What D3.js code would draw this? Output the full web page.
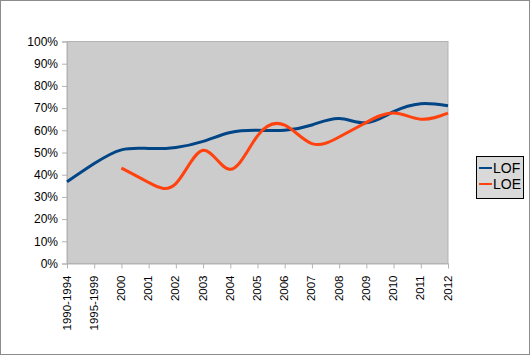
<!DOCTYPE html>
<html>
<head>
<meta charset="utf-8">
<script src="https://cdn.jsdelivr.net/npm/d3@7/dist/d3.min.js"></script>
<style>
  html, body { margin: 0; padding: 0; background: #fff; }
  svg { display: block; font-family: "Liberation Sans", Arial, sans-serif; }
</style>
</head>
<body>
<svg id="chart" width="531" height="356"></svg>
<script>
const categories = ["1990-1994","1995-1999","2000","2001","2002","2003","2004","2005","2006","2007","2008","2009","2010","2011","2012"];
const lofValues = [36.8, 45.0, 51.2, 51.8, 52.3, 55.0, 59.0, 60.0, 60.0, 62.4, 65.3, 63.4, 68.4, 72.0, 71.1];
const loeValues = [null, null, 43.0, 36.5, 36.0, 51.0, 42.4, 57.5, 62.3, 54.0, 57.0, 63.6, 67.8, 65.0, 67.7];
const seriesNames = ["LOF", "LOE"];
const seriesColors = ["#004586", "#ff420e"];
const yTicks = [0,10,20,30,40,50,60,70,80,90,100];

const svg = d3.select("#chart");
const W = 531, H = 356;
const plot = {left: 67, right: 448, top: 41.5, bottom: 263.5};

// outer border
svg.append("rect").attr("x", 0.5).attr("y", 0.5).attr("width", W - 2).attr("height", H - 2)
  .attr("fill", "#fff").attr("stroke", "#8c8c8c");

const x = d3.scalePoint().domain(categories).range([plot.left, plot.right]);
const y = d3.scaleLinear().domain([0, 100]).range([plot.bottom, plot.top]);

// plot wall
svg.append("rect").attr("x", plot.left).attr("y", plot.top)
  .attr("width", plot.right - plot.left).attr("height", plot.bottom - plot.top)
  .attr("fill", "#cccccc").attr("stroke", "#b3b3b3");

// y axis
const yAxis = svg.append("g").attr("transform", `translate(${plot.left},0)`)
  .call(d3.axisLeft(y).tickValues(yTicks).tickSize(5).tickPadding(4).tickFormat(d => d + "%"));
yAxis.select(".domain").attr("stroke", "#b3b3b3");
yAxis.selectAll(".tick line").attr("stroke", "#b3b3b3");
yAxis.selectAll("text").attr("font-size", 12).attr("fill", "#000")
  .attr("font-family", "Liberation Sans, Arial, sans-serif");

// x axis
const xAxis = svg.append("g").attr("transform", `translate(0,${plot.bottom})`)
  .call(d3.axisBottom(x).tickSize(5).tickSizeOuter(0));
xAxis.select(".domain").attr("stroke", "#b3b3b3");
xAxis.selectAll(".tick line").attr("stroke", "#b3b3b3");
xAxis.selectAll("text")
  .attr("font-size", 11.5).attr("fill", "#000")
  .attr("font-family", "Liberation Sans, Arial, sans-serif")
  .attr("text-anchor", "end")
  .attr("dy", null)
  .attr("y", 0)
  .attr("transform", "translate(-1,12) rotate(-90)")
  .attr("dominant-baseline", "central");

// lines
const line = d3.line()
  .defined(d => d.v != null)
  .x(d => x(d.c))
  .y(d => y(d.v))
  .curve(d3.curveNatural);

[lofValues, loeValues].forEach((vals, i) => {
  const data = categories.map((c, j) => ({c, v: vals[j]})).filter(d => d.v != null);
  svg.append("path").datum(data)
    .attr("d", line)
    .attr("fill", "none")
    .attr("stroke", seriesColors[i])
    .attr("stroke-width", 3)
    .attr("stroke-linejoin", "round");
});

// legend
const lg = svg.append("g");
lg.append("rect").attr("x", 476.5).attr("y", 156.5).attr("width", 47).attr("height", 42)
  .attr("fill", "#d9d9d9").attr("stroke", "#000");
seriesNames.forEach((n, i) => {
  const cy = 172 - 4 + i * 16;
  lg.append("line").attr("x1", 479).attr("x2", 492).attr("y1", cy).attr("y2", cy)
    .attr("stroke", seriesColors[i]).attr("stroke-width", 2);
  lg.append("text").attr("x", 493).attr("y", cy).attr("dy", "0.35em")
    .attr("font-size", 14).attr("fill", "#000").text(n);
});
</script>
</body>
</html>
